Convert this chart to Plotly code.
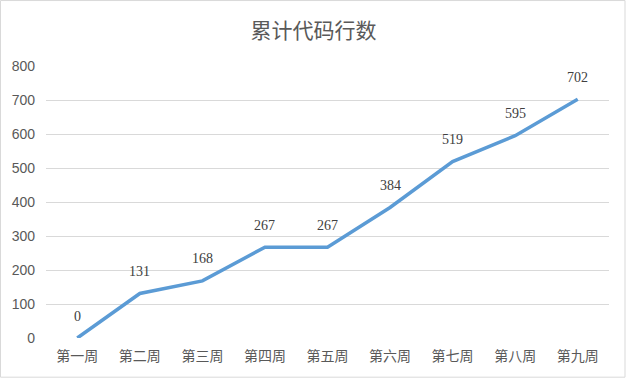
import plotly.graph_objects as go

weeks = ["第一周", "第二周", "第三周", "第四周", "第五周", "第六周", "第七周", "第八周", "第九周"]
lines = [0, 131, 168, 267, 267, 384, 519, 595, 702]
y_ticks = [0, 100, 200, 300, 400, 500, 600, 700, 800]

fig = go.Figure()
fig.add_trace(go.Scatter(
    x=weeks, y=lines, mode="lines",
    line=dict(color="#5B9BD5", width=3.5),
    cliponaxis=False, hoverinfo="skip",
))

annotations = [
    dict(x=w, y=v, text=str(v), showarrow=False, yshift=22, xref="x", yref="y",
         font=dict(family="Liberation Serif, serif", size=14, color="#404040"))
    for w, v in zip(weeks, lines)
]

fig.update_layout(
    width=627, height=378,
    margin=dict(l=46, r=18, t=66, b=40),
    paper_bgcolor="white", plot_bgcolor="white",
    showlegend=False,
    annotations=annotations,
    title=dict(text="累计代码行数", x=0.5, xanchor="center", y=0.92, yanchor="middle",
               font=dict(family="Noto Sans CJK SC", size=21, color="#595959")),
    xaxis=dict(type="category", range=[-0.5, 8.5], showgrid=False, showline=False,
               ticks="", zeroline=False, ticklabelstandoff=8,
               tickfont=dict(family="Noto Sans CJK SC", size=14, color="#595959")),
    yaxis=dict(range=[0, 800], tickvals=y_ticks, showgrid=True, gridcolor="#D9D9D9",
               gridwidth=1, zeroline=False, showline=False, ticks="", ticklabelstandoff=10,
               tickfont=dict(family="Liberation Sans, sans-serif", size=14, color="#595959")),
    shapes=[dict(type="rect", xref="paper", yref="paper", x0=-45.5/563, x1=1+16/563,
                 y0=-40/272 + 0.003, y1=1+66/272 - 0.002,
                 line=dict(color="#D9D9D9", width=1))],
)
fig.write_html("out.html", config={"displayModeBar": False},
               post_script="document.body.style.margin='0';")
